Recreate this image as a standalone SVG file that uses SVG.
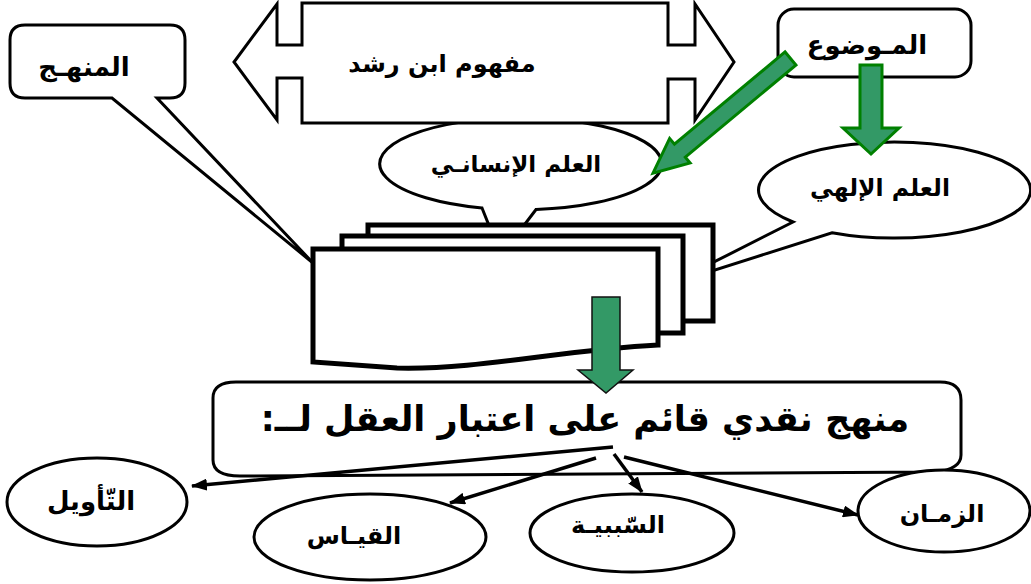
<svg xmlns="http://www.w3.org/2000/svg" width="1031" height="584" viewBox="0 0 1031 584">
<style>
.shape{fill:#fff;stroke:#000;stroke-width:3;stroke-linejoin:miter}
.page{fill:#fff;stroke:#000;stroke-width:5}
.green{fill:#339966;stroke:#008000;stroke-width:3}
.green2{fill:#339966;stroke:#111;stroke-width:1.5}
.conn{fill:none;stroke:#000;stroke-width:3.5}
text{font-family:"DejaVu Sans","Liberation Sans",sans-serif;font-weight:bold;fill:#000;text-anchor:middle;direction:rtl;unicode-bidi:embed}
</style>
<defs>
<marker id="ah" viewBox="0 0 16 12" refX="15" refY="6" markerWidth="16" markerHeight="12" markerUnits="userSpaceOnUse" orient="auto">
<path d="M0,0 L16,6 L0,12 Z" fill="#000"/>
</marker>
</defs>
<rect width="1031" height="584" fill="#fff"/>

<g id="node-manhaj">
<path class="shape" d="M112,98 H25 Q10,98 10,83 V40 Q10,25 25,25 H170 Q185,25 185,40 V83 Q185,98 170,98 H157 L313,263 Z"/>
<text x="84" y="76" font-size="26" direction="rtl">المنهـج</text>
</g>

<g id="node-insani">
<path class="shape" d="M482,208 L490,228 L522,228 L536,209.5 A141,46 0 1 0 482,208 Z"/>
<text x="516" y="172" font-size="23" direction="rtl">العلم الإنسانـي</text>
</g>

<g id="node-ilahi">
<path class="shape" d="M793,222 L712,263 L712,271 L832,232.7 A136,48 0 1 0 793,222 Z"/>
<text x="880" y="196" font-size="23.5" direction="rtl">العلم الإلهي</text>
</g>

<g id="node-stack">
<path class="page" d="M368,236 V225 H713 V321 H683"/>
<path class="page" d="M342,249 V236 H683 V333 H658"/>
<path class="page" d="M313,249 H658 V345 C560,350 480,370 397,368 L313,362 Z"/>
</g>

<g id="node-mafhoum">
<path class="shape" d="M302,3 H668 V45 H695 V4 L734,62 L695,120 V79 H668 V123 H302 V78 H277 V120 L234,62 L277,4 V45 H302 Z"/>
<text x="442" y="72" font-size="24" direction="rtl">مفهوم ابن رشد</text>
</g>

<g id="node-mawdou">
<rect class="shape" x="778" y="9" width="193" height="68" rx="16"/>
<text x="867" y="54" font-size="26" direction="rtl">المـوضوع</text>
</g>

<g id="node-critical">
<path class="shape" d="M236,382 H940 Q961,382 961,400 V455 Q961,469 936,472 L240,476 Q213,476 213,460 V398 Q213,382 236,382 Z"/>
<text x="585" y="431" font-size="35" direction="rtl">منهج نقدي  قائم على اعتبار العقل لــ:</text>
</g>

<g id="node-tawil">
<ellipse class="shape" cx="97" cy="502" rx="90" ry="44"/>
<text x="91" y="510" font-size="26" direction="rtl">التّأويل</text>
</g>
<g id="node-qiyas">
<ellipse class="shape" cx="370" cy="537" rx="116" ry="43"/>
<text x="354" y="544" font-size="24" direction="rtl">القيـاس</text>
</g>
<g id="node-sababiya">
<ellipse class="shape" cx="632" cy="533" rx="102" ry="39"/>
<text x="618" y="533" font-size="24" direction="rtl">السّببيـة</text>
</g>
<g id="node-zaman">
<ellipse class="shape" cx="944" cy="511" rx="86" ry="41"/>
<text x="942" y="522" font-size="24" direction="rtl">الزمـان</text>
</g>

<g id="connectors">
<polygon class="green" transform="translate(790.5,58.5) rotate(140.2)" points="0,-8.5 144,-8.5 144,-16 179,0 144,16 144,8.5 0,8.5"/>
<polygon class="green" points="860,65 882,65 882,128 899,128 871,154 843,128 860,128"/>
<polygon class="green2" points="592,297 620,297 620,370 633,370 606,393 578,370 592,370"/>
<line class="conn" x1="613" y1="447" x2="192" y2="486" marker-end="url(#ah)"/>
<line class="conn" x1="596" y1="458" x2="450" y2="503" marker-end="url(#ah)"/>
<line class="conn" x1="614" y1="454" x2="642" y2="492" marker-end="url(#ah)"/>
<line class="conn" x1="624" y1="457" x2="858" y2="515" marker-end="url(#ah)"/>
</g>
</svg>
